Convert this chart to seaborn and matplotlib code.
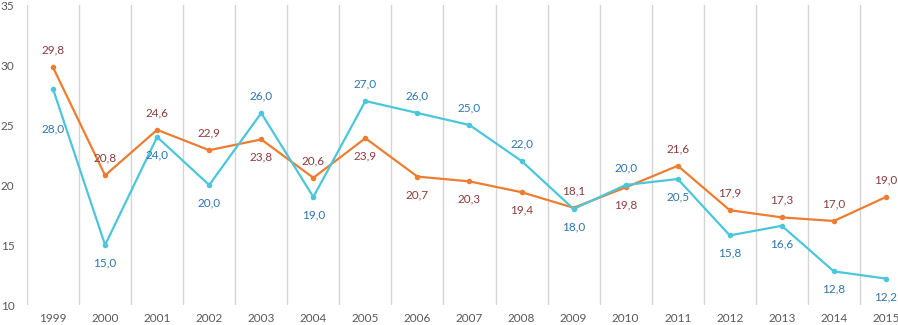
import pandas as pd
import matplotlib
matplotlib.use('Agg')
import matplotlib.pyplot as plt
import seaborn as sns
from matplotlib.ticker import MultipleLocator, FixedLocator

# Data
years = list(range(1999, 2016))
orange_vals = [29.8, 20.8, 24.6, 22.9, 23.8, 20.6, 23.9, 20.7, 20.3, 19.4,
               18.1, 19.8, 21.6, 17.9, 17.3, 17.0, 19.0]
cyan_vals = [28.0, 15.0, 24.0, 20.0, 26.0, 19.0, 27.0, 26.0, 25.0, 22.0,
             18.0, 20.0, 20.5, 15.8, 16.6, 12.8, 12.2]

# where each data label sits: 1 = above the point, -1 = below
orange_side = [1, 1, 1, 1, -1, 1, -1, -1, -1, -1, 1, -1, 1, 1, 1, 1, 1]
cyan_side = [-1, -1, -1, -1, 1, -1, 1, 1, 1, 1, -1, 1, -1, -1, -1, -1, -1]

df = pd.DataFrame({
    'year': years * 2,
    'value': orange_vals + cyan_vals,
    'series': ['orange'] * len(years) + ['cyan'] * len(years),
})

sns.set_style('white')
plt.rcParams['font.family'] = ['Lato', 'DejaVu Sans']

line_colors = {'orange': '#ED7D31', 'cyan': '#4BC6DB'}
label_colors = {'orange': '#8E3B3B', 'cyan': '#2F74AE'}

fig = plt.figure(figsize=(8.98, 3.25), dpi=100)
# axes run slightly past the right edge, as in the cropped original
ax = fig.add_axes([27 / 898, 20 / 325, 885 / 898, 300 / 325])

sns.lineplot(data=df, x='year', y='value', hue='series',
             palette=line_colors, marker='o', markersize=4,
             markeredgewidth=0, linewidth=1.6, ax=ax, legend=False)

for vals, sides, key in [(orange_vals, orange_side, 'orange'),
                         (cyan_vals, cyan_side, 'cyan')]:
    for yr, v, s in zip(years, vals, sides):
        off = 17 if s > 0 else -18
        if key == 'cyan' and yr == 1999:
            off = -40
        ax.annotate(f'{v:.1f}'.replace('.', ','), (yr, v),
                    xytext=(0, off), textcoords='offset pixels',
                    ha='center', va='center', fontsize=8.5,
                    color=label_colors[key])

ax.set_xlim(1998.5, 2015.5)
ax.set_ylim(10, 35)
ax.yaxis.set_major_locator(MultipleLocator(5))
ax.set_xticks(years)
ax.set_xticklabels([str(y) for y in years])
ax.xaxis.set_minor_locator(FixedLocator([y + 0.5 for y in range(1998, 2016)]))
ax.grid(which='minor', axis='x', color='#D4D4D4', linewidth=1.0)
ax.grid(which='major', visible=False)
ax.tick_params(axis='both', which='both', length=0, labelsize=8.5,
               labelcolor='#595959')
ax.tick_params(axis='y', pad=9)
ax.tick_params(axis='x', pad=6)
ax.set_xlabel('')
ax.set_ylabel('')
for sp in ax.spines.values():
    sp.set_visible(False)

fig.savefig('out.png', dpi=100)
plt.close(fig)
